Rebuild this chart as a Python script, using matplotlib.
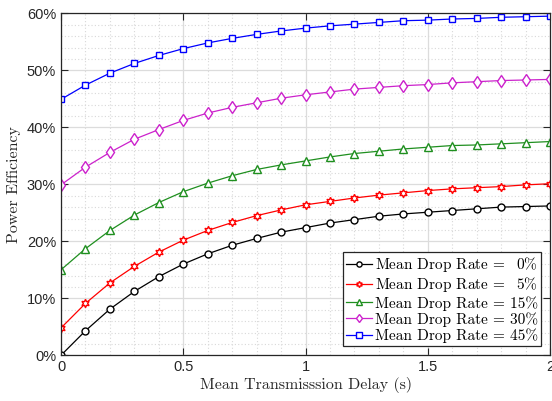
import matplotlib
matplotlib.use('Agg')
import matplotlib.pyplot as plt
from matplotlib.ticker import MultipleLocator, FuncFormatter

plt.rcParams['mathtext.fontset'] = 'cm'
plt.rcParams['axes.unicode_minus'] = False

# 传输时延 (s)
delay = [0.0, 0.1, 0.2, 0.3, 0.4, 0.5, 0.6, 0.7, 0.8, 0.9, 1.0,
         1.1, 1.2, 1.3, 1.4, 1.5, 1.6, 1.7, 1.8, 1.9, 2.0]

# 各丢包率下的功率效率 (%)
eff_0 = [0.0, 4.3, 8.1, 11.2, 13.8, 16.0, 17.8, 19.3, 20.5, 21.6, 22.4,
         23.2, 23.8, 24.4, 24.8, 25.1, 25.4, 25.7, 26.0, 26.1, 26.2]
eff_5 = [4.8, 9.1, 12.7, 15.6, 18.1, 20.2, 21.9, 23.3, 24.5, 25.5, 26.4,
         27.0, 27.6, 28.1, 28.5, 28.9, 29.2, 29.4, 29.6, 29.9, 30.1]
eff_15 = [15.0, 18.7, 21.9, 24.6, 26.8, 28.7, 30.2, 31.5, 32.6, 33.4, 34.1,
          34.8, 35.4, 35.8, 36.2, 36.5, 36.8, 36.9, 37.1, 37.3, 37.5]
eff_30 = [29.9, 33.0, 35.6, 37.9, 39.6, 41.2, 42.5, 43.5, 44.3, 45.1, 45.7,
          46.2, 46.7, 47.0, 47.3, 47.5, 47.8, 48.0, 48.2, 48.3, 48.4]
eff_45 = [44.9, 47.4, 49.5, 51.2, 52.6, 53.8, 54.8, 55.6, 56.3, 56.9, 57.4,
          57.8, 58.1, 58.4, 58.7, 58.8, 59.0, 59.1, 59.3, 59.4, 59.5]

# 个位数前补半个 em 的空白，让百分号对齐
labels = [r'Mean Drop Rate = $\hspace{0.5}$0%',
          r'Mean Drop Rate = $\hspace{0.5}$5%',
          'Mean Drop Rate = 15%',
          'Mean Drop Rate = 30%',
          'Mean Drop Rate = 45%']
series = [eff_0, eff_5, eff_15, eff_30, eff_45]
colors = ['k', '#ff0000', '#1f8f1f', '#cc22cc', '#0000ff']
markers = ['o', (6, 1, 0), '^', 'd', 's']
sizes = [5, 6, 5.5, 6, 5]

fig = plt.figure(figsize=(5.52, 4.01), dpi=100)
ax = fig.add_axes([61 / 552, (401 - 355.3) / 401, 489 / 552, 342 / 401])

for y, lab, c, m, ms in zip(series, labels, colors, markers, sizes):
    ax.plot(delay, y, color=c, marker=m, markersize=ms, markerfacecolor='white',
            markeredgecolor=c, markeredgewidth=1.0, linewidth=0.9, label=lab)

ax.set_xlim(0, 2)
ax.set_ylim(0, 60)
ax.xaxis.set_major_locator(MultipleLocator(0.5))
ax.xaxis.set_minor_locator(MultipleLocator(0.1))
ax.yaxis.set_major_locator(MultipleLocator(10))
ax.yaxis.set_minor_locator(MultipleLocator(2))
ax.xaxis.set_major_formatter(FuncFormatter(lambda v, p: '%g' % v))
ax.yaxis.set_major_formatter(FuncFormatter(lambda v, p: '%d%%' % v))

ax.grid(which='major', color='#dcdcdc', linewidth=0.9, linestyle='-')
ax.grid(which='minor', color='#d8d8d8', linewidth=0.8, linestyle=(0, (1, 2)))
ax.set_axisbelow(True)

ax.tick_params(which='major', direction='in', length=5, width=0.8,
               top=True, right=True, colors='#262626', labelsize=10.5)
ax.tick_params(which='minor', length=0, top=True, right=True)
for lbl in ax.get_xticklabels() + ax.get_yticklabels():
    lbl.set_fontfamily('Liberation Sans')
for sp in ax.spines.values():
    sp.set_color('#262626')
    sp.set_linewidth(0.9)

ax.set_xlabel('Mean Transmisssion Delay (s)', fontfamily='cmr10', fontsize=11.5,
              color='#262626', labelpad=2)
ax.set_ylabel('Power Efficiency', fontfamily='cmr10', fontsize=11.5,
              color='#262626', labelpad=4)

leg = ax.legend(loc='lower right', prop={'family': 'cmr10', 'size': 11},
                fancybox=False, edgecolor='#262626', framealpha=1,
                handlelength=1.7, handletextpad=0.2, borderpad=0.2,
                labelspacing=0.1, borderaxespad=0.6, markerscale=0.75)
leg.get_frame().set_linewidth(0.9)

fig.savefig('out.png', dpi=100)
